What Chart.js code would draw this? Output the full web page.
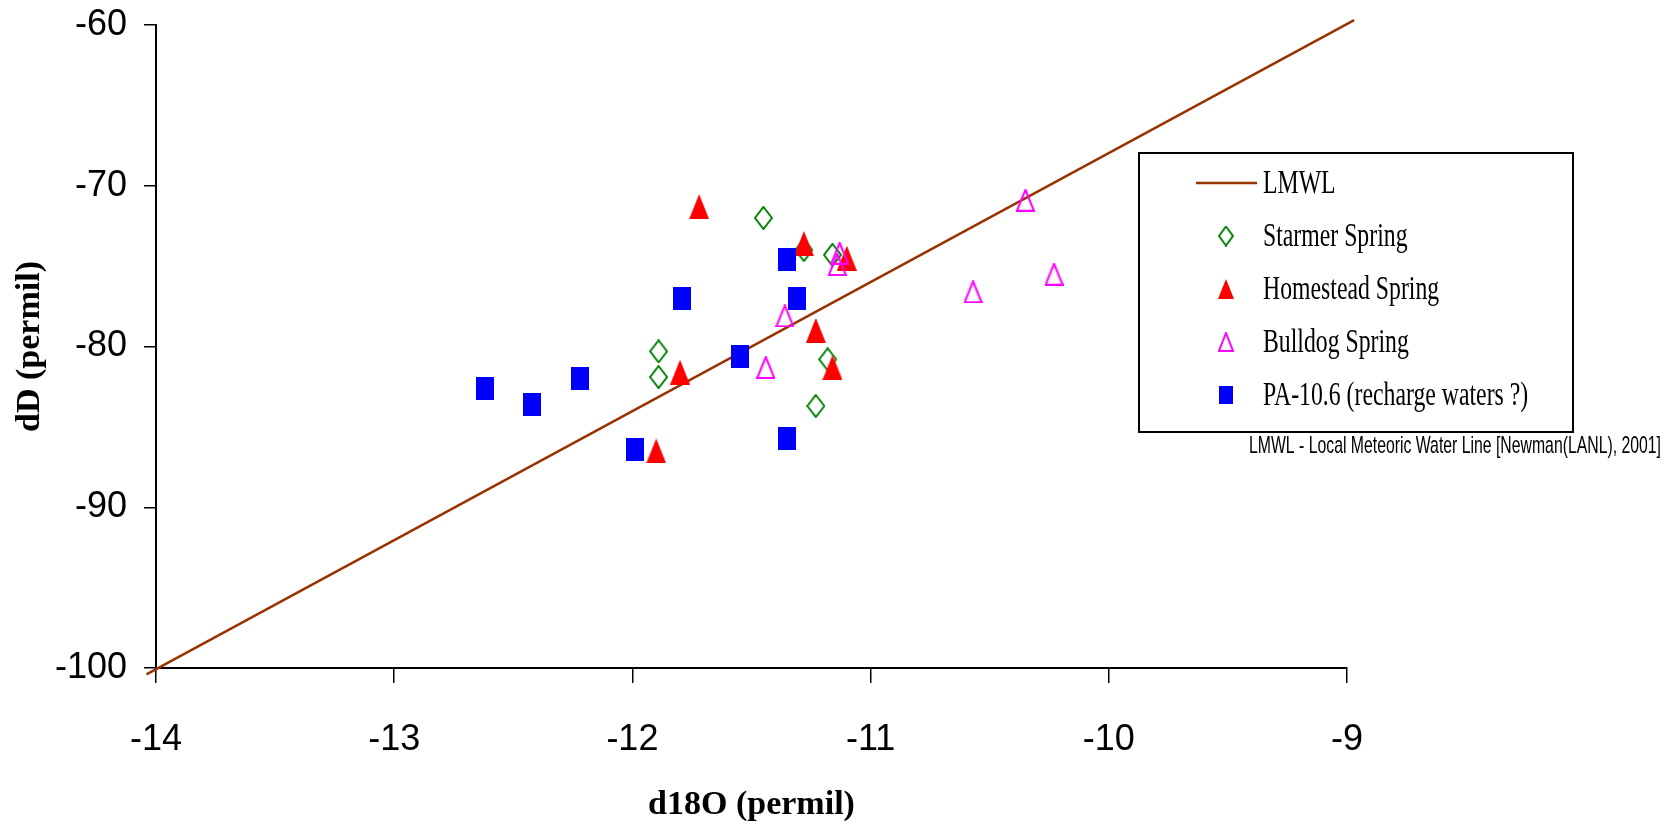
<!DOCTYPE html>
<html>
<head>
<meta charset="utf-8">
<script src="https://cdn.jsdelivr.net/npm/chart.js@4.4.1/dist/chart.umd.min.js"></script>
<style>
  html, body { margin: 0; padding: 0; background: #fff; }
  #wrap { width: 1666px; height: 825px; position: relative; }
</style>
</head>
<body>
<div id="wrap"><canvas id="grafico"></canvas></div>
<script>
// tick values
const xTicks = [-14, -13, -12, -11, -10, -9];
const yTicks = [-100, -90, -80, -70, -60];

// LMWL end points
const lmwlX = [-14.04, -8.97];
const lmwlY = [-100.4, -59.7];

// Starmer Spring
const starmerX = [-11.45, -11.28, -11.16, -11.89, -11.89, -11.18, -11.23];
const starmerY = [-72.0, -74.0, -74.3, -80.3, -81.9, -80.8, -83.7];

// Homestead Spring
const homesteadX = [-11.72, -11.28, -11.10, -11.23, -11.80, -11.16, -11.90];
const homesteadY = [-71.3, -73.6, -74.5, -79.0, -81.6, -81.3, -86.5];

// Bulldog Spring
const bulldogX = [-11.13, -11.14, -11.36, -11.44, -10.35, -10.23, -10.57];
const bulldogY = [-74.2, -74.9, -78.1, -81.3, -70.9, -75.5, -76.6];

// PA-10.6 (recharge waters?)
const paX = [-12.62, -12.42, -12.22, -11.99, -11.79, -11.55, -11.35, -11.31, -11.35];
const paY = [-82.6, -83.6, -82.0, -86.4, -77.0, -80.6, -74.6, -77.0, -85.7];

function puntos(xs, ys) {
    return xs.map((x, i) => ({ x, y: ys[i] }));
}

// marker images (the original markers are a bit taller than wide)
function crearMarcador(forma, w, h, color, relleno) {
    const c = document.createElement('canvas');
    c.width = w;
    c.height = h;
    const g = c.getContext('2d');
    g.fillStyle = color;
    g.strokeStyle = color;
    g.lineWidth = 2;
    g.beginPath();
    if (forma === 'rect') {
        g.rect(0, 0, w, h);
    } else if (forma === 'triangle') {
        const m = relleno ? 0 : 1;
        g.moveTo(w / 2, m);
        g.lineTo(w - m, h - m);
        g.lineTo(m, h - m);
        g.closePath();
    } else if (forma === 'diamond') {
        g.moveTo(w / 2, 1);
        g.lineTo(w - 1, h / 2);
        g.lineTo(w / 2, h - 1);
        g.lineTo(1, h / 2);
        g.closePath();
    }
    if (relleno) g.fill(); else g.stroke();
    return c;
}

const mkStarmer = crearMarcador('diamond', 19, 24, '#008000', false);
const mkHomestead = crearMarcador('triangle', 20, 25, '#FF0000', true);
const mkBulldog = crearMarcador('triangle', 19, 23, '#FF00FF', false);
const mkPA = crearMarcador('rect', 18, 23, '#0000FF', true);

const lgStarmer = crearMarcador('diamond', 16, 21, '#008000', false);
const lgHomestead = crearMarcador('triangle', 16, 20, '#FF0000', true);
const lgBulldog = crearMarcador('triangle', 16, 20, '#FF00FF', false);
const lgPA = crearMarcador('rect', 14, 18, '#0000FF', true);

function textoEstrecho(ctx, texto, x, y, sx) {
    ctx.save();
    ctx.translate(x, y);
    ctx.scale(sx, 1);
    ctx.fillText(texto, 0, 0);
    ctx.restore();
}

const leyendaCaja = {
    id: 'leyendaCaja',
    afterDraw(chart) {
        const ctx = chart.ctx;
        ctx.save();
        ctx.fillStyle = '#fff';
        ctx.fillRect(1139, 153, 434, 279);
        ctx.strokeStyle = '#000';
        ctx.lineWidth = 2;
        ctx.strokeRect(1139, 153, 434, 279);

        ctx.font = "33px 'Liberation Serif', 'Times New Roman', serif";
        ctx.textBaseline = 'middle';
        ctx.textAlign = 'left';
        chart.data.datasets.forEach((ds, i) => {
            const y = 183 + i * 53;
            if (ds.showLine) {
                ctx.strokeStyle = ds.borderColor;
                ctx.lineWidth = 2.5;
                ctx.beginPath();
                ctx.moveTo(1196, y);
                ctx.lineTo(1257, y);
                ctx.stroke();
            } else {
                const img = ds.iconoLeyenda;
                ctx.drawImage(img, 1226 - img.width / 2, y - img.height / 2);
            }
            ctx.fillStyle = '#000';
            textoEstrecho(ctx, ds.label, 1263, y + 1, 0.72);
        });

        const nota = 'LMWL - Local Meteoric Water Line [Newman(LANL), 2001]';
        ctx.font = "24px 'Liberation Sans', Arial, sans-serif";
        ctx.textAlign = 'left';
        const sx = 412 / ctx.measureText(nota).width;
        textoEstrecho(ctx, nota, 1249, 446, sx);
        ctx.restore();
    }
};

const fuenteTicks = { family: "'Liberation Sans', Arial, sans-serif", size: 36 };
const fuenteTitulo = { family: "'Liberation Serif', 'Times New Roman', serif", weight: 'bold', size: 34, lineHeight: 1 };

const config = {
    type: 'scatter',
    data: {
        datasets: [
            {
                label: 'LMWL',
                data: puntos(lmwlX, lmwlY),
                showLine: true,
                borderColor: '#993300',
                borderWidth: 2.5,
                pointRadius: 0,
                clip: false,
                order: 4
            },
            {
                label: 'Starmer Spring',
                data: puntos(starmerX, starmerY),
                pointStyle: mkStarmer,
                iconoLeyenda: lgStarmer,
                order: 3
            },
            {
                label: 'Homestead Spring',
                data: puntos(homesteadX, homesteadY),
                pointStyle: mkHomestead,
                iconoLeyenda: lgHomestead,
                order: 2
            },
            {
                label: 'Bulldog Spring',
                data: puntos(bulldogX, bulldogY),
                pointStyle: mkBulldog,
                iconoLeyenda: lgBulldog,
                order: 1
            },
            {
                label: 'PA-10.6 (recharge waters ?)',
                data: puntos(paX, paY),
                pointStyle: mkPA,
                iconoLeyenda: lgPA,
                order: 0
            }
        ]
    },
    options: {
        responsive: true,
        maintainAspectRatio: false,
        animation: false,
        events: [],
        layout: { padding: { top: 25, right: 319, bottom: 0, left: 0 } },
        plugins: {
            legend: { display: false },
            tooltip: { enabled: false }
        },
        scales: {
            x: {
                type: 'linear',
                min: -14,
                max: -9,
                afterBuildTicks: s => { s.ticks = xTicks.map(v => ({ value: v })); },
                afterFit: s => { s.height = 157; s.paddingLeft = 0; s.paddingRight = 0; },
                ticks: { color: '#000', font: fuenteTicks, padding: 35, maxRotation: 0 },
                grid: { drawOnChartArea: false, drawTicks: true, tickLength: 15, color: '#000', lineWidth: 1.5 },
                border: { display: true, color: '#000', width: 2 },
                title: {
                    display: true,
                    text: 'd18O (permil)',
                    color: '#000',
                    font: fuenteTitulo,
                    padding: { top: 0, bottom: 3 }
                }
            },
            y: {
                type: 'linear',
                min: -100,
                max: -60,
                afterBuildTicks: s => { s.ticks = yTicks.map(v => ({ value: v })); },
                afterFit: s => { s.width = 156; s.paddingTop = 0; s.paddingBottom = 0; },
                ticks: { color: '#000', font: fuenteTicks, padding: 17 },
                grid: { drawOnChartArea: false, drawTicks: true, tickLength: 12, color: '#000', lineWidth: 1.5 },
                border: { display: true, color: '#000', width: 2 },
                title: {
                    display: true,
                    text: 'dD (permil)',
                    color: '#000',
                    font: fuenteTitulo,
                    padding: { top: 13, bottom: 0 }
                }
            }
        }
    },
    plugins: [leyendaCaja]
};

document.addEventListener('DOMContentLoaded', () => {
    const ctx = document.getElementById('grafico').getContext('2d');
    new Chart(ctx, config);
});
</script>
</body>
</html>
